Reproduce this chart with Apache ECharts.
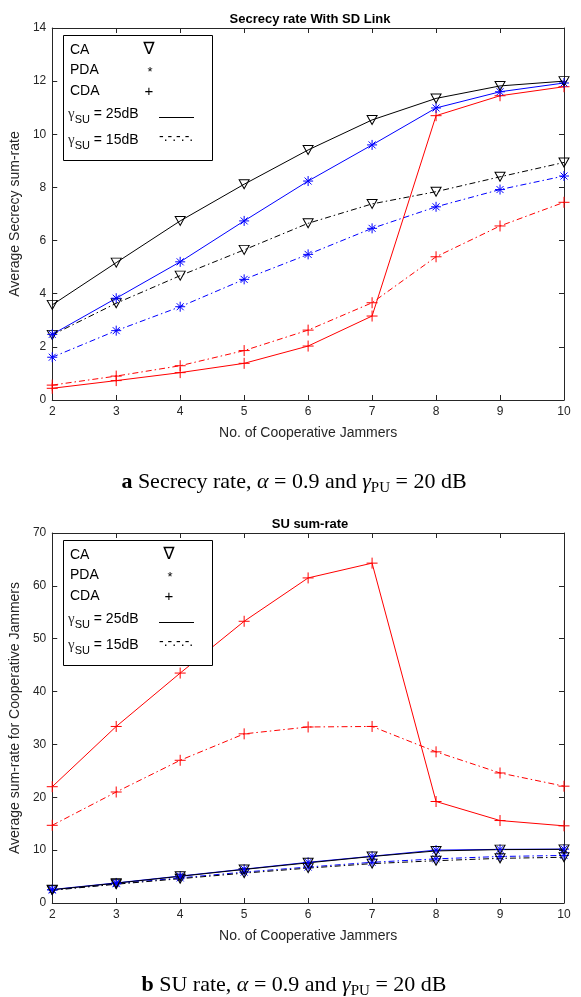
<!DOCTYPE html>
<html><head><meta charset="utf-8">
<script src="https://cdn.jsdelivr.net/npm/echarts@6/dist/echarts.min.js"></script>
<style>html,body{margin:0;padding:0;background:#fff}#c{width:581px;height:997px}</style>
</head><body><div id="c"></div>
<script>
// ---------- data ----------
const jammers = [2, 3, 4, 5, 6, 7, 8, 9, 10];
// (a) Average secrecy sum-rate
const secCA25  = [3.58, 5.17, 6.74, 8.12, 9.41, 10.54, 11.35, 11.82, 12.00];
const secPDA25 = [2.47, 3.83, 5.20, 6.74, 8.24, 9.60, 10.99, 11.60, 11.93];
const secCDA25 = [0.44, 0.73, 1.03, 1.38, 2.03, 3.16, 10.70, 11.45, 11.79];
const secCA15  = [2.45, 3.64, 4.68, 5.65, 6.65, 7.38, 7.84, 8.40, 8.94];
const secPDA15 = [1.61, 2.61, 3.51, 4.54, 5.48, 6.46, 7.27, 7.92, 8.43];
const secCDA15 = [0.56, 0.90, 1.29, 1.86, 2.63, 3.66, 5.39, 6.55, 7.44];
// (b) SU sum-rate
const suCA25  = [2.50, 3.75, 5.05, 6.35, 7.60, 8.80, 9.85, 10.10, 10.15];
const suPDA25 = [2.55, 3.80, 5.10, 6.40, 7.70, 8.85, 10.00, 10.15, 10.20];
const suCDA25 = [22.0, 33.4, 43.5, 53.3, 61.5, 64.3, 19.2, 15.6, 14.6];
const suCA15  = [2.40, 3.55, 4.60, 5.65, 6.60, 7.45, 8.00, 8.45, 8.65];
const suPDA15 = [2.45, 3.65, 4.75, 5.85, 6.80, 7.70, 8.35, 8.80, 9.00];
const suCDA15 = [14.7, 21.0, 27.0, 32.0, 33.3, 33.4, 28.6, 24.6, 22.1];
// ticks
const xTicks = {min: 2, max: 10, interval: 1};
const secTicks = {min: 0, max: 14, interval: 2};
const suTicks = {min: 0, max: 70, interval: 10};

// ---------- styling ----------
const AX = '#262626';
const SANS = 'Liberation Sans, Arial, Helvetica, sans-serif';
const SERIF = 'Liberation Serif, Times New Roman, serif';
const STAR = 'path://M10,0L10,20M0,10L20,10M3,3L17,17M3,17L17,3';
const PLUS = 'path://M10,0L10,20M0,10L20,10';
const DASHDOT = [6, 3, 1.5, 3];

function pairs(vals) { return jammers.map((x, i) => [x, vals[i]]); }
function mk(vals, color, kind, dashed, g) {
  const s = {
    type: 'line', xAxisIndex: g * 2, yAxisIndex: g * 2, data: pairs(vals),
    silent: true, animation: false, z: 3,
    lineStyle: {color: color, width: 1, type: dashed ? DASHDOT : 'solid'},
    itemStyle: {color: 'rgba(0,0,0,0)', borderColor: color, borderWidth: 1},
    emphasis: {disabled: true}
  };
  if (kind === 'tri') { s.symbol = 'triangle'; s.symbolRotate = 180; s.symbolSize = [10, 9]; }
  else if (kind === 'star') { s.symbol = STAR; s.symbolSize = 10; }
  else { s.symbol = PLUS; s.symbolSize = 11; }
  return s;
}
function xAx(g, bottom) {
  return {
    gridIndex: g, type: 'value', position: bottom ? 'bottom' : 'top',
    min: xTicks.min, max: xTicks.max, interval: xTicks.interval,
    axisLine: {show: true, onZero: false, lineStyle: {color: AX, width: 1}},
    axisTick: {show: true, inside: true, length: 5, lineStyle: {color: AX}},
    axisLabel: {show: bottom, fontSize: 12, color: AX, fontFamily: SANS, margin: 6},
    splitLine: {show: false},
    name: bottom ? 'No. of Cooperative Jammers' : '', nameLocation: 'middle', nameGap: 26,
    nameTextStyle: {fontSize: 14, color: AX, fontFamily: SANS}
  };
}
function yAx(g, left, t, name) {
  return {
    gridIndex: g, type: 'value', position: left ? 'left' : 'right',
    min: t.min, max: t.max, interval: t.interval,
    axisLine: {show: true, onZero: false, lineStyle: {color: AX, width: 1}},
    axisTick: {show: true, inside: true, length: 5, lineStyle: {color: AX}},
    axisLabel: {show: left, fontSize: 12, color: AX, fontFamily: SANS, margin: 6},
    splitLine: {show: false},
    name: left ? name : '', nameLocation: 'middle', nameGap: 19,
    nameTextStyle: {fontSize: 14, color: AX, fontFamily: SANS}
  };
}
function txt(x, y, text, extra) {
  return Object.assign({type: 'text', x: x, y: y, silent: true, z: 20,
    style: Object.assign({text: text, fill: '#000', fontFamily: SANS, fontSize: 14,
      align: 'left', verticalAlign: 'middle'}, extra || {})});
}
function legend(top, mx) {
  const gRich = {
    g: {fontSize: 15, fontFamily: SERIF, fill: '#333', lineHeight: 22, verticalAlign: 'middle'},
    s: {fontSize: 11, fontFamily: SANS, fill: '#000', lineHeight: 12, verticalAlign: 'bottom'},
    n: {fontSize: 14, fontFamily: SANS, fill: '#000', lineHeight: 22, verticalAlign: 'middle'}
  };
  return [
    {type: 'rect', silent: true, z: 15, shape: {x: 63.5, y: top + 7.5, width: 149, height: 125},
      style: {fill: '#fff', stroke: '#000', lineWidth: 1}},
    txt(70, top + 22, 'CA'), txt(70, top + 42, 'PDA'), txt(70, top + 63, 'CDA'),
    txt(mx, top + 22, '∇', {align: 'center', fontFamily: 'DejaVu Sans', fontSize: 17}),
    txt(mx + 1, top + 44, '*', {align: 'center', fontSize: 13}),
    txt(mx, top + 64, '+', {align: 'center', fontSize: 15}),
    txt(68, top + 86, '{g|γ}{s|SU}{n| = 25dB}', {rich: gRich}),
    txt(68, top + 112, '{g|γ}{s|SU}{n| = 15dB}', {rich: gRich}),
    {type: 'line', silent: true, z: 20, shape: {x1: 159, y1: top + 89.5, x2: 194, y2: top + 89.5},
      style: {stroke: '#000', lineWidth: 1}},
    txt(159, top + 109, '-.-.-.-.', {fontSize: 14})
  ];
}
function caption(y, letter, label) {
  return {
    type: 'text', x: 294, y: y, silent: true, z: 20,
    style: {
      text: '{b|' + letter + '}{n| ' + label + ', }{i|α}{n| = 0.9 and }{i|γ}{s|PU}{n| = 20 dB}',
      align: 'center', verticalAlign: 'middle', fontFamily: SERIF,
      rich: {
        b: {fontSize: 22, fontWeight: 'bold', fontFamily: SERIF, fill: '#000', lineHeight: 28},
        n: {fontSize: 22, fontFamily: SERIF, fill: '#000', lineHeight: 28},
        i: {fontSize: 22, fontStyle: 'italic', fontFamily: SERIF, fill: '#000', lineHeight: 28},
        s: {fontSize: 15, fontFamily: SERIF, fill: '#000', lineHeight: 16, verticalAlign: 'bottom'}
      }
    }
  };
}

const chart = echarts.init(document.getElementById('c'), null, {renderer: 'canvas'});
chart.setOption({
  animation: false,
  backgroundColor: '#fff',
  title: [
    {text: 'Secrecy rate With SD Link', left: 305, top: 8, textAlign: 'center',
      textStyle: {fontSize: 13, fontWeight: 'bold', color: '#000', fontFamily: SANS}},
    {text: 'SU sum-rate', left: 305, top: 513, textAlign: 'center',
      textStyle: {fontSize: 13, fontWeight: 'bold', color: '#000', fontFamily: SANS}}
  ],
  grid: [
    {left: 52, right: 17, top: 28, height: 372},
    {left: 52, right: 17, top: 533, height: 370}
  ],
  xAxis: [xAx(0, true), xAx(0, false), xAx(1, true), xAx(1, false)],
  yAxis: [
    yAx(0, true, secTicks, 'Average Secrecy sum-rate'), yAx(0, false, secTicks, ''),
    yAx(1, true, suTicks, 'Average sum-rate for Cooperative Jammers'), yAx(1, false, suTicks, '')
  ],
  series: [
    mk(secCDA15, '#ff0000', 'plus', true, 0),
    mk(secPDA15, '#0000ff', 'star', true, 0),
    mk(secCA15, '#000000', 'tri', true, 0),
    mk(secCDA25, '#ff0000', 'plus', false, 0),
    mk(secPDA25, '#0000ff', 'star', false, 0),
    mk(secCA25, '#000000', 'tri', false, 0),
    mk(suCDA15, '#ff0000', 'plus', true, 1),
    mk(suPDA15, '#0000ff', 'star', true, 1),
    mk(suCA15, '#000000', 'tri', true, 1),
    mk(suPDA25, '#0000ff', 'star', false, 1),
    mk(suCA25, '#000000', 'tri', false, 1),
    mk(suCDA25, '#ff0000', 'plus', false, 1)
  ],
  graphic: [].concat(legend(28, 149), legend(533, 169),
    [caption(482, 'a', 'Secrecy rate'), caption(985, 'b', 'SU rate')])
});
</script>
</body></html>
